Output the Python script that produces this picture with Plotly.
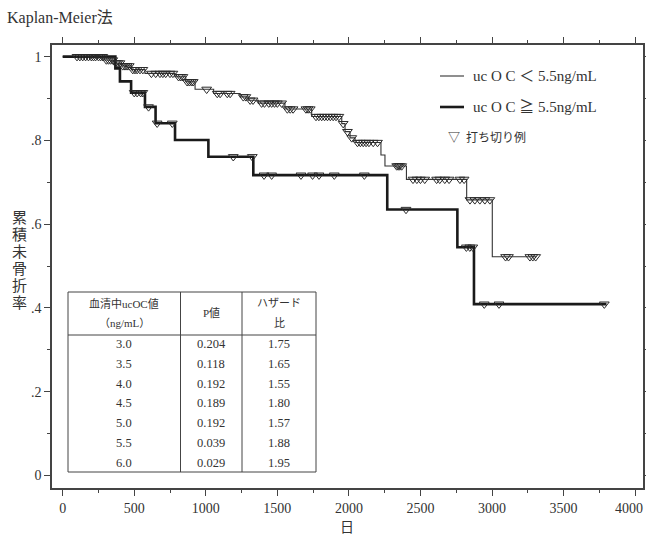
import numpy as np
import plotly.graph_objects as go

# ---------------- data ----------------
# ucOC < 5.5 ng/mL  (thin line): step times (days) and survival after each step
low_t = [0, 290, 360, 412, 481, 575, 785, 860, 925, 1055, 1240, 1297, 1367,
         1553, 1740, 1950, 1973, 2008, 2043, 2224, 2252, 2402, 2823, 3002, 3312]
low_s = [1.0, 0.992, 0.985, 0.978, 0.969, 0.960, 0.952, 0.940, 0.922, 0.912,
         0.904, 0.896, 0.889, 0.875, 0.857, 0.840, 0.821, 0.806, 0.795, 0.765,
         0.739, 0.707, 0.658, 0.522, 0.522]
low_cens = [100, 120, 140, 160, 180, 200, 215, 230, 250, 265, 280,
            305, 320, 335, 350, 370, 385, 400, 420, 435, 450, 465,
            490, 505, 520, 540, 560, 620, 650, 680, 700, 720, 750, 770,
            810, 825, 840, 870, 885, 900, 912, 1006, 1080, 1100, 1150, 1170,
            1262, 1280, 1310, 1330, 1390, 1410, 1440, 1460, 1480, 1500, 1530,
            1570, 1590, 1610, 1700, 1715, 1730,
            1770, 1790, 1810, 1830, 1850, 1870, 1890, 1910, 1930,
            1960, 1990, 2020, 2060, 2080, 2100, 2120, 2140, 2170, 2200,
            2334, 2345, 2355, 2369,
            2448, 2475, 2500, 2530, 2613, 2635, 2670, 2700, 2776, 2805,
            2846, 2880, 2915, 2950, 2985, 3095, 3115, 3265, 3285, 3305]

# ucOC >= 5.5 ng/mL (thick line)
high_t = [0, 368, 400, 478, 575, 649, 785, 1018, 1332, 2268, 2758, 2874, 3800]
high_s = [1.0, 0.972, 0.941, 0.914, 0.880, 0.841, 0.801, 0.761, 0.717,
          0.635, 0.545, 0.409, 0.409]
high_cens = [500, 520, 545, 560, 600, 660, 766, 1192, 1325,
             1407, 1460, 1665, 1746, 1791, 1898, 2108, 2399,
             2821, 2845, 2866, 2946, 3049, 3785]

# table
tbl_conc = ["3.0", "3.5", "4.0", "4.5", "5.0", "5.5", "6.0"]
tbl_p = ["0.204", "0.118", "0.192", "0.189", "0.192", "0.039", "0.029"]
tbl_hr = ["1.75", "1.65", "1.55", "1.80", "1.57", "1.88", "1.95"]

x_ticks = [0, 500, 1000, 1500, 2000, 2500, 3000, 3500, 4000]
x_ticktext = ["0", "500", "1000", "1500", "2000", "2500", "3000", "3500", ""]
x_last_label = "4000"   # drawn separately so it stays inside the page
y_ticks = [0, 0.2, 0.4, 0.6, 0.8, 1.0]
y_ticktext = ["0", ".2", ".4", ".6", ".8", "1"]

# ---------------- helpers ----------------
FONT = "Liberation Serif, Noto Sans CJK JP, serif"
TXT = "#333333"

W, H = 646, 535
ML, MR, MT, MB = 52, 3, 45, 47
PW, PH = W - ML - MR, H - MT - MB


def step_at(ts, ss, x):
    idx = np.searchsorted(np.array(ts), np.array(x), side="right") - 1
    return list(np.array(ss)[idx])


# pixel -> data mapping (axis ranges)
def dx(px):
    return (px - 62.7) / 0.1431


def dy(py):
    return (475.4 - py) / 418.75


# pixel -> paper mapping (decorations)
def px_(px):
    return (px - ML) / PW


def py_(py):
    return (H - MB - py) / PH


fig = go.Figure()

fig.add_trace(go.Scatter(x=low_t, y=low_s, mode="lines", line_shape="hv",
                         line=dict(color="#333333", width=1.1), showlegend=False))
fig.add_trace(go.Scatter(x=high_t, y=high_s, mode="lines", line_shape="hv",
                         line=dict(color="#1a1a1a", width=2.6), showlegend=False))
fig.add_trace(go.Scatter(x=low_cens, y=step_at(low_t, low_s, low_cens), mode="markers",
                         marker=dict(symbol="triangle-down-open", size=8.5,
                                     color="#2a2a2a", line=dict(width=1)),
                         showlegend=False))
fig.add_trace(go.Scatter(x=high_cens, y=step_at(high_t, high_s, high_cens), mode="markers",
                         marker=dict(symbol="triangle-down-open", size=8.5,
                                     color="#2a2a2a", line=dict(width=1)),
                         showlegend=False))

shapes = []
ann = []


def A(x, y, text, size, xanchor="center", yanchor="middle"):
    ann.append(dict(x=px_(x), y=py_(y), xref="paper", yref="paper", xanchor=xanchor,
                    yanchor=yanchor, text=text, showarrow=False,
                    font=dict(family=FONT, size=size, color=TXT)))


def L(x0, y0, x1, y1, color, width):
    shapes.append(dict(type="line", xref="paper", yref="paper", x0=px_(x0), x1=px_(x1),
                       y0=py_(y0), y1=py_(y1), line=dict(color=color, width=width)))


# legend
L(440, 76, 464, 76, "#333333", 1.1)
L(440, 107, 464, 107, "#1a1a1a", 2.6)
A(471, 76, "uc O C ＜ 5.5ng/mL", 15, xanchor="left")
A(471, 107, "uc O C ≧ 5.5ng/mL", 15, xanchor="left")
A(446, 138, "▽  打ち切り例", 12, xanchor="left")

# table
tl, tr, tt, tb = 68, 316, 292, 472
c1, c2 = 180.5, 242
hdr = 335
lc = "#444444"
shapes.append(dict(type="rect", xref="paper", yref="paper", x0=px_(tl), x1=px_(tr),
                   y0=py_(tt), y1=py_(tb), line=dict(color=lc, width=1),
                   fillcolor="white", layer="below"))
for cx in (c1, c2):
    L(cx, tt, cx, tb, lc, 1)
L(tl, hdr, tr, hdr, lc, 1)

col_x = [(tl + c1) / 2, (c1 + c2) / 2, (c2 + tr) / 2]
A(col_x[0], 303, "血清中ucOC値", 11)
A(col_x[0], 323, "（ng/mL）", 11)
A(col_x[1], 313, "P値", 11)
A(col_x[2], 303, "ハザード", 11)
A(col_x[2], 323, "比", 11)
for i in range(len(tbl_conc)):
    yy = 344 + 19.8 * i
    for j, col in enumerate((tbl_conc, tbl_p, tbl_hr)):
        A(col_x[j], yy, col[i], 12.5)

# titles
A(5, 18, "Kaplan-Meier法", 16, xanchor="left")
for k, ch in enumerate("累積未骨折率"):
    A(19, 218 + 17 * k, ch, 15)
A(347, 527, "日", 14)
A(645, 508, x_last_label, 14, xanchor="right")

axis_common = dict(showline=True, linecolor="#444444", linewidth=1.5, mirror="ticks",
                   ticks="outside", tickcolor="#444444", ticklen=6, tickwidth=1,
                   showgrid=False, zeroline=False, automargin=False,
                   tickfont=dict(family=FONT, size=14, color=TXT))

fig.update_layout(
    width=W, height=H,
    margin=dict(l=ML, r=MR, t=MT, b=MB),
    plot_bgcolor="white", paper_bgcolor="white",
    showlegend=False,
    shapes=shapes, annotations=ann,
    xaxis=dict(range=[dx(ML), dx(W - MR)], tickvals=x_ticks, ticktext=x_ticktext,
               minor=dict(dtick=250, tick0=0, ticks="outside", ticklen=3, tickcolor="#444444"),
               **axis_common),
    yaxis=dict(range=[dy(H - MB), dy(MT)], tickvals=y_ticks, ticktext=y_ticktext,
               minor=dict(dtick=0.1, tick0=0, ticks="outside", ticklen=3, tickcolor="#444444"),
               **axis_common),
)

fig.write_html("out.html", config={"displayModeBar": False},
               post_script="document.body.style.margin='0';document.body.style.padding='0';")
